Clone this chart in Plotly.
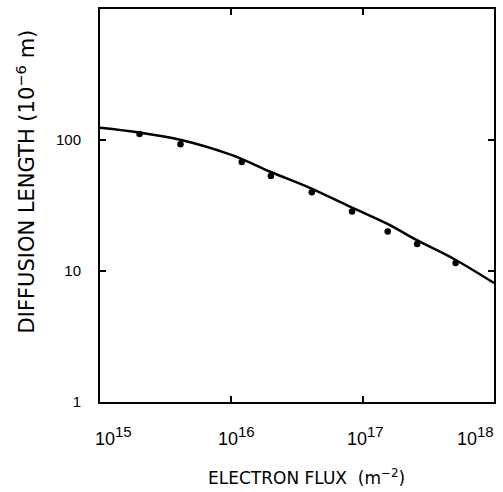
import math
import plotly.graph_objects as go

# measured data points
flux_pts = [2.0e15, 4.1e15, 1.2e16, 2.0e16, 4.1e16, 8.3e16, 1.55e17, 2.6e17, 5.1e17]
length_pts = [111, 93, 68, 53, 40, 28.5, 20, 16.1, 11.5]

# fitted curve
flux_fit = [1e15, 2e15, 4e15, 1e16, 2e16, 4e16, 8e16, 1.6e17, 2.5e17, 5e17, 1e18]
length_fit = [124, 114, 101, 77, 57, 43, 31, 22.5, 17.5, 12.3, 8.1]

x_tickvals = [1e15, 1e16, 1e17, 1e18]
x_exponents = ["15", "16", "17", "18"]
y_tickvals = [1, 10, 100]
y_ticktext = ["1", "10", "100"]

x_title = "ELECTRON FLUX  (m<sup>−2</sup>)"
y_title = "DIFFUSION LENGTH (10<sup>−6</sup> m)"

font = "DejaVu Sans"
tick_font = "Liberation Sans"

fig = go.Figure()
fig.add_trace(go.Scatter(x=flux_fit, y=length_fit, mode="lines",
                         line=dict(color="black", width=2.5, shape="spline"),
                         showlegend=False))
fig.add_trace(go.Scatter(x=flux_pts, y=length_pts, mode="markers",
                         marker=dict(color="black", size=6.5),
                         showlegend=False))

# x tick labels as annotations on the log x axis (annotation x is in log10 units)
anchors = ["left", "center", "center", "right"]
shifts = [-7, 5, 3, 2]
for v, e, a, s in zip(x_tickvals, x_exponents, anchors, shifts):
    t = "10<sup><span style='font-size:15px'>" + e + "</span></sup>"
    fig.add_annotation(x=math.log10(v), xref="x", y=0, yref="paper", text=t, showarrow=False,
                       xanchor=a, yanchor="top", xshift=s, yshift=-19,
                       font=dict(size=18, family=tick_font, color="black"))

fig.add_annotation(x=0.523, xref="paper", y=-0.192, yref="paper", text=x_title,
                   showarrow=False, xanchor="center", yanchor="middle",
                   font=dict(size=17, family=font, color="black"))
fig.add_annotation(x=-0.189, xref="paper", y=0.56, yref="paper", text=y_title,
                   showarrow=False, xanchor="center", yanchor="middle", textangle=-90,
                   font=dict(size=21, family=font, color="black"))

fig.update_layout(
    width=503, height=492,
    margin=dict(l=100, r=7, t=9, b=90),
    paper_bgcolor="white", plot_bgcolor="white",
    font=dict(family=font, color="black", size=13),
    xaxis=dict(type="log", range=[15, 18], tickvals=x_tickvals, showticklabels=False,
               ticks="inside", ticklen=6, tickwidth=2, tickcolor="black",
               showline=True, linecolor="black", linewidth=2, mirror="ticks",
               showgrid=False, zeroline=False),
    yaxis=dict(type="log", range=[0, 3], tickvals=y_tickvals, ticktext=y_ticktext,
               ticks="inside", ticklen=6, tickwidth=2, tickcolor="black",
               showline=True, linecolor="black", linewidth=2, mirror="ticks",
               showgrid=False, zeroline=False,
               tickfont=dict(size=15, family=tick_font), ticklabelstandoff=14),
)

fig.write_html("out.html")
